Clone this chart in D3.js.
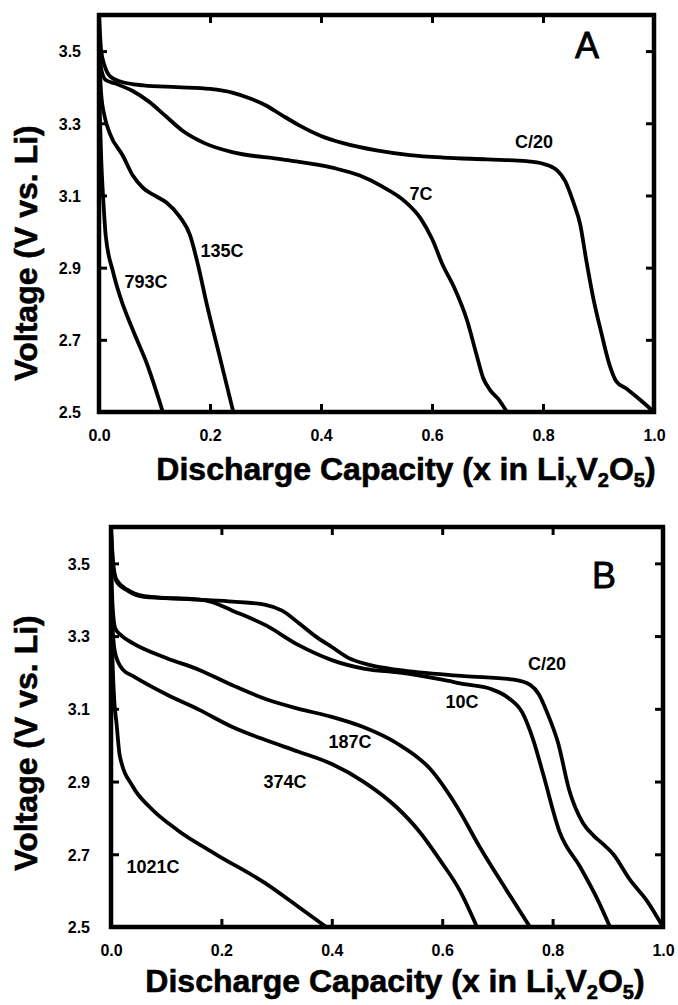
<!DOCTYPE html>
<html>
<head>
<meta charset="utf-8">
<script src="https://cdn.jsdelivr.net/npm/d3@7"></script>
<style>
  body { margin: 0; background: #fff; }
  svg { display: block; font-family: "Liberation Sans", Arial, sans-serif; }
</style>
</head>
<body>
<div id="chart"></div>
<script>
var width = 678,
  height = 1005;

// tick values
var xTicks = [0, 0.2, 0.4, 0.6, 0.8, 1.0];
var yTicks = [2.5, 2.7, 2.9, 3.1, 3.3, 3.5];

// panel A curves [x, voltage]
var aC20 = [[0,3.60],[0.004,3.50],[0.01,3.46],[0.02,3.43],[0.04,3.415],[0.08,3.405],[0.14,3.40],[0.20,3.395],[0.24,3.385],[0.27,3.37],[0.30,3.35],[0.33,3.322],[0.36,3.295],[0.40,3.265],[0.44,3.245],[0.50,3.225],[0.56,3.212],[0.62,3.205],[0.70,3.20],[0.77,3.195],[0.80,3.188],[0.825,3.17],[0.84,3.14],[0.855,3.08],[0.867,3.02],[0.878,2.92],[0.89,2.82],[0.905,2.72],[0.92,2.63],[0.932,2.585],[0.95,2.565],[0.97,2.54],[1.0,2.50]];
var a7C = [[0,3.56],[0.004,3.45],[0.012,3.42],[0.03,3.41],[0.06,3.39],[0.09,3.36],[0.12,3.32],[0.15,3.28],[0.19,3.245],[0.24,3.22],[0.33,3.20],[0.42,3.177],[0.47,3.155],[0.51,3.125],[0.55,3.085],[0.58,3.035],[0.60,2.98],[0.62,2.905],[0.64,2.845],[0.663,2.755],[0.68,2.66],[0.692,2.595],[0.705,2.56],[0.72,2.535],[0.735,2.50]];
var a135C = [[0,3.50],[0.004,3.38],[0.01,3.32],[0.02,3.27],[0.043,3.21],[0.061,3.155],[0.08,3.12],[0.10,3.10],[0.122,3.08],[0.146,3.04],[0.164,2.99],[0.178,2.91],[0.194,2.80],[0.218,2.65],[0.242,2.50]];
var a793C = [[0,3.40],[0.004,3.20],[0.008,3.08],[0.012,2.99],[0.025,2.89],[0.038,2.82],[0.061,2.727],[0.086,2.635],[0.115,2.50]];

// panel B curves [x, voltage]
var bC20 = [[0,3.60],[0.004,3.50],[0.01,3.455],[0.03,3.427],[0.06,3.41],[0.16,3.40],[0.22,3.395],[0.28,3.386],[0.31,3.37],[0.34,3.336],[0.37,3.30],[0.40,3.27],[0.43,3.24],[0.47,3.22],[0.52,3.207],[0.64,3.19],[0.73,3.18],[0.76,3.165],[0.775,3.14],[0.79,3.09],[0.81,3.006],[0.83,2.877],[0.855,2.786],[0.875,2.75],[0.89,2.73],[0.91,2.70],[0.94,2.63],[0.97,2.574],[1.0,2.50]];
var b10C = [[0,3.59],[0.004,3.49],[0.01,3.45],[0.03,3.425],[0.06,3.408],[0.16,3.40],[0.18,3.395],[0.22,3.37],[0.28,3.33],[0.34,3.275],[0.40,3.234],[0.46,3.21],[0.52,3.20],[0.60,3.18],[0.64,3.168],[0.687,3.155],[0.72,3.13],[0.745,3.09],[0.765,3.014],[0.783,2.92],[0.813,2.76],[0.85,2.665],[0.88,2.58],[0.904,2.50]];
var b187C = [[0,3.50],[0.003,3.38],[0.008,3.32],[0.02,3.30],[0.04,3.28],[0.10,3.24],[0.16,3.207],[0.22,3.165],[0.28,3.127],[0.34,3.1],[0.40,3.078],[0.457,3.05],[0.517,3.006],[0.578,2.935],[0.627,2.83],[0.668,2.72],[0.717,2.60],[0.759,2.50]];
var b374C = [[0,3.45],[0.003,3.32],[0.008,3.25],[0.022,3.207],[0.04,3.19],[0.10,3.14],[0.16,3.097],[0.22,3.05],[0.28,3.014],[0.34,2.982],[0.40,2.948],[0.457,2.90],[0.517,2.83],[0.56,2.76],[0.596,2.684],[0.632,2.60],[0.663,2.50]];
var b1021C = [[0,3.40],[0.003,3.22],[0.006,3.12],[0.01,3.06],[0.016,2.97],[0.04,2.885],[0.07,2.83],[0.12,2.767],[0.19,2.70],[0.28,2.62],[0.34,2.555],[0.39,2.50]];

// curve labels
var aLabels = ["C/20", "7C", "135C", "793C"];
var bLabels = ["C/20", "10C", "187C", "374C", "1021C"];

var svg = d3.select("#chart")
  .append("svg")
  .attr("width", width)
  .attr("height", height);

function drawPanel(p) {
  var x = d3.scaleLinear().domain([0, 1]).range([p.left, p.right]);
  var y = d3.scaleLinear().domain([2.5, 3.6]).range([p.bottom, p.top]);
  var g = svg.append("g");

  var clipId = "clip" + p.name;
  g.append("clipPath").attr("id", clipId)
    .append("rect")
    .attr("x", p.left).attr("y", p.top)
    .attr("width", p.right - p.left).attr("height", p.bottom - p.top);

  var line = d3.line()
    .x(function(d){ return x(d[0]); })
    .y(function(d){ return y(d[1]); })
    .curve(d3.curveMonotoneX);

  g.append("g").attr("clip-path", "url(#" + clipId + ")")
    .selectAll("path")
    .data(p.series)
    .enter()
    .append("path")
    .attr("d", line)
    .attr("fill", "none")
    .attr("stroke", "#000")
    .attr("stroke-width", 3.8)
    .attr("stroke-linejoin", "round");

  var fmt = d3.format(".1f");

  var bottom = g.append("g").attr("transform", "translate(0," + p.bottom + ")")
    .call(d3.axisBottom(x).tickValues(xTicks).tickSize(-8).tickFormat(fmt));
  bottom.selectAll("text").attr("y", 29).attr("dy", null);

  g.append("g").attr("transform", "translate(0," + p.top + ")")
    .call(d3.axisTop(x).tickValues(xTicks).tickSize(-8).tickFormat(""));

  var left = g.append("g").attr("transform", "translate(" + p.left + ",0)")
    .call(d3.axisLeft(y).tickValues(yTicks).tickSize(-8).tickFormat(fmt));
  left.selectAll("text").attr("x", -p.yLabelGap).attr("dy", "0.36em");

  g.append("g").attr("transform", "translate(" + p.right + ",0)")
    .call(d3.axisRight(y).tickValues(yTicks).tickSize(-8).tickFormat(""));

  g.selectAll(".domain").remove();
  g.selectAll(".tick line").attr("stroke", "#000").attr("stroke-width", 3);
  g.selectAll(".tick text")
    .attr("fill", "#000")
    .style("font-size", "16px")
    .style("font-weight", "bold")
    .style("font-family", "'Liberation Sans', Arial, sans-serif");

  g.append("rect")
    .attr("x", p.left).attr("y", p.top)
    .attr("width", p.right - p.left).attr("height", p.bottom - p.top)
    .attr("fill", "none")
    .attr("stroke", "#000")
    .attr("stroke-width", 4.5);

  // curve labels
  g.selectAll(".clabel")
    .data(p.labels)
    .enter()
    .append("text")
    .attr("x", function(d, i){ return p.labelPos[i][0]; })
    .attr("y", function(d, i){ return p.labelPos[i][1]; })
    .attr("text-anchor", "middle")
    .style("font-size", "18px")
    .style("font-weight", "bold")
    .text(function(d){ return d; });

  // panel letter
  g.append("text")
    .attr("x", p.letterPos[0]).attr("y", p.letterPos[1])
    .attr("text-anchor", "middle")
    .attr("stroke", "#000").attr("stroke-width", 0.8)
    .style("font-size", "36px")
    .text(p.name);

  // y title
  g.append("text")
    .attr("transform", "translate(" + p.yTitle[0] + "," + p.yTitle[1] + ") rotate(-90)")
    .attr("text-anchor", "middle")
    .attr("stroke", "#000").attr("stroke-width", 0.6)
    .style("font-size", "32px")
    .style("font-weight", "bold")
    .text("Voltage (V vs. Li)");

  // x title with subscripts
  var xt = g.append("text")
    .attr("x", p.xTitle[0]).attr("y", p.xTitle[1])
    .attr("text-anchor", "middle")
    .attr("stroke", "#000").attr("stroke-width", 0.6)
    .style("font-size", "32px")
    .style("font-weight", "bold");
  xt.append("tspan").text("Discharge Capacity (x in Li");
  xt.append("tspan").attr("dy", 7).style("font-size", "20px").text("x");
  xt.append("tspan").attr("dy", -7).text("V");
  xt.append("tspan").attr("dy", 7).style("font-size", "20px").text("2");
  xt.append("tspan").attr("dy", -7).text("O");
  xt.append("tspan").attr("dy", 7).style("font-size", "20px").text("5");
  xt.append("tspan").attr("dy", -7).text(")");
}

drawPanel({
  name: "A",
  left: 99, right: 654, top: 15, bottom: 412,
  yLabelGap: 18,
  series: [aC20, a7C, a135C, a793C],
  labels: aLabels,
  labelPos: [[534, 148], [421, 200], [222, 257], [146, 288]],
  letterPos: [587, 58],
  yTitle: [37, 253],
  xTitle: [406, 480]
});

drawPanel({
  name: "B",
  left: 111, right: 663, top: 527, bottom: 927,
  yLabelGap: 21,
  series: [bC20, b10C, b187C, b374C, b1021C],
  labels: bLabels,
  labelPos: [[547, 670], [462, 708], [350, 748], [285, 788], [153, 873]],
  letterPos: [604, 588],
  yTitle: [37, 743],
  xTitle: [395, 992]
});
</script>
</body>
</html>
